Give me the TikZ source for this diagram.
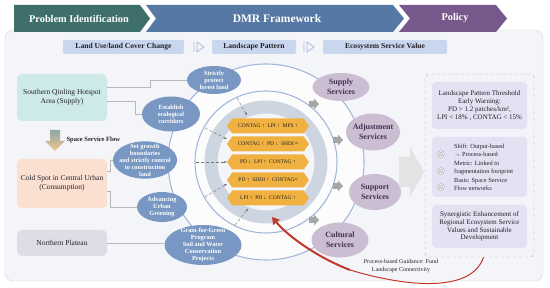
\documentclass[tikz,border=0pt]{standalone}
\usepackage{fontspec}
\setmainfont{Liberation Serif}
\usetikzlibrary{shapes, arrows.meta, positioning, calc}
\definecolor{teal1}{RGB}{63,111,106}
\definecolor{blue1}{RGB}{85,120,164}
\definecolor{violet1}{RGB}{120,89,140}
\definecolor{panel1}{RGB}{244,245,248}
\definecolor{tag1}{RGB}{200,214,238}
\definecolor{ring1}{RGB}{163,183,219}
\definecolor{ringgray}{RGB}{205,213,225}
\definecolor{measure1}{RGB}{120,151,195}
\definecolor{service1}{RGB}{203,189,210}
\definecolor{serviceink}{RGB}{68,48,82}
\definecolor{hex1}{RGB}{240,177,64}
\definecolor{policy1}{RGB}{229,225,243}
\definecolor{policy2}{RGB}{245,242,249}
\definecolor{hot1}{RGB}{206,234,232}
\definecolor{cold1}{RGB}{251,224,210}
\definecolor{plateau1}{RGB}{220,221,231}
\definecolor{flowend}{RGB}{247,196,140}
\definecolor{arrowred}{RGB}{192,57,43}
\definecolor{ink1}{RGB}{34,34,40}

\tikzset{
  headtxt/.style={text=white, font=\fontsize{10.3}{12}\selectfont\bfseries},
  tag/.style={fill=tag1, rounded corners=1.5pt, minimum height=14pt, inner sep=0pt,
    font=\fontsize{7.6}{9}\selectfont\bfseries, text=ink1},
  region/.style={rounded corners=5pt, minimum width=90pt, align=center, inner sep=0pt,
    font=\fontsize{7.5}{9}\selectfont, text=ink1},
  measure/.style={ellipse, fill=measure1, text=white, align=center, inner sep=-3pt,
    font=\fontsize{6.3}{7}\selectfont\bfseries},
  service/.style={ellipse, fill=service1, text=serviceink, align=center, inner sep=-3pt,
    font=\fontsize{8}{10}\selectfont\bfseries},
  metric/.style={signal, signal to=east and west, signal pointer angle=110, fill=hex1,
    minimum width=82pt, minimum height=15pt, inner sep=0pt,
    font=\fontsize{5.5}{6}\selectfont, text=ink1},
  link/.style={draw=black!28, line width=0.5pt},
  cue/.style={draw=black!55, densely dashed, line width=0.4pt, -{Stealth[length=3pt,width=2.4pt]}},
  polbox/.style={fill=policy1, rounded corners=4pt, minimum width=95pt, align=center, inner sep=0pt,
    font=\fontsize{7}{7.8}\selectfont, text=ink1},
  item/.style={anchor=west, align=left, inner sep=0pt, font=\fontsize{6.3}{8.5}\selectfont, text=ink1},
  policon/.style={circle, draw=black!40, line width=0.5pt, double=white, double distance=0.9pt,
    minimum size=5pt, inner sep=0pt}
}

\begin{document}
\begin{tikzpicture}[x=1pt, y=-1pt]
  \useasboundingbox (0,0) rectangle (550,288);
  \fill[white] (0,0) rectangle (550,288);
  \draw[fill=panel1, draw=black!15, rounded corners=8pt] (5,30) rectangle (543,281);

  \fill[teal1] (14,5) -- (140,5) -- (150,18.5) -- (140,32) -- (14,32) -- cycle;
  \fill[blue1] (146,5) -- (393,5) -- (404,18.5) -- (393,32) -- (146,32) -- (156,18.5) -- cycle;
  \fill[violet1] (399,5) -- (496,5) -- (507,18.5) -- (496,32) -- (399,32) -- (410,18.5) -- cycle;
  \node[headtxt] (hProb) at (79,18.5) {Problem Identification};
  \node[headtxt, font=\fontsize{11.5}{13}\selectfont\bfseries] (hDMR) at (277,18.5) {DMR Framework};
  \node[headtxt] (hPol) at (455,18.5) {Policy};

  \node[tag, minimum width=121pt] (tLand) at (123.5,47) {Land Use/land Cover Change};
  \node[tag, minimum width=84pt] (tPat) at (254,47) {Landscape Pattern};
  \node[tag, minimum width=124pt] (tEco) at (385,47) {Ecosystem Service Value};
  \foreach \x in {194,304}
    \draw[ring1, line width=0.7pt] (\x,42) -- (\x,52) (\x+3,42) -- (\x+10,47) -- (\x+3,52) -- cycle;

  \node[region, fill=hot1, minimum height=47pt] (hot) at (62,97.5) {Southern Qinling Hotspot\\Area (Supply)};
  \node[region, fill=cold1, minimum height=49pt] (cold) at (62,183.5) {Cold Spot in Central Urban\\(Consumption)};
  \node[region, fill=plateau1, minimum height=26pt] (plateau) at (62,243) {Northern Plateau};
  \shade[top color=teal1!60, bottom color=flowend] (50,130) -- (60,130) -- (60,141) -- (65,141) -- (55,151) -- (45,141) -- (50,141) -- cycle;
  \node[anchor=west, font=\fontsize{6.5}{8}\selectfont\bfseries, text=ink1] (flow) at (63,140) {Space Service Flow};

  \coordinate (hub) at (266,162);
  \draw[ring1, line width=1.1pt, fill=white!70!panel1] (hub) circle [radius=98pt];
  \draw[ring1, line width=1.1pt] (hub) circle [radius=71pt];
  \draw[ringgray, line width=13pt, fill=panel1] (hub) circle [radius=55pt];

  \foreach \y/\txt [count=\i] in {126/{CONTAG ↑\enspace LPI ↑\enspace MPS ↑},
      144/{CONTAG ↑\enspace PD ↓\enspace SHDI ≈},
      162/{PD ↓\enspace LPI ↑\enspace CONTAG ↑},
      180/{PD ↑\enspace SHDI ↑\enspace CONTAG≈},
      198/{LPI ↑\enspace PD ↓\enspace CONTAG ↑}}
    \node[metric] (hex\i) at (268,\y) {\txt};

  \foreach \p in {(314,104),(338,140),(338,186),(314,220)}
    \fill[black!35] \p ++(-5,-3) -- ++(5,0) -- ++(0,-2.5) -- ++(5,5.5) -- ++(-5,5.5) -- ++(0,-2.5) -- ++(-5,0) -- cycle;

  \node[measure, minimum width=54pt, minimum height=28pt] (forest) at (214,80) {Strictly\\protect\\forest land};
  \node[measure, minimum width=58pt, minimum height=35pt] (corridor) at (171,114) {Establish\\ecological\\corridors};
  \node[measure, minimum width=64pt, minimum height=37pt] (growth) at (145,160) {Set growth\\boundaries\\and strictly control\\to construction\\land};
  \node[measure, minimum width=50pt, minimum height=30pt] (greening) at (162,207) {Advancing\\Urban\\Greening};
  \node[measure, minimum width=77pt, minimum height=40pt] (grain) at (203,245) {Grain-for-Green\\Program\\Soil and Water\\Conservation\\Projects};

  \draw[link] ([yshift=10pt]hot.east) -- ++(43,0) |- (forest.west);
  \draw[link] ([yshift=-3.5pt]hot.east) -- ++(28,0) |- (corridor.west);
  \draw[link] ([yshift=12pt]cold.east) -- ++(3,0) |- (growth.west);
  \draw[link] ([yshift=-8pt]cold.east) -- ++(3,0) |- (greening.west);
  \draw[link] (plateau.east) -- (plateau.east -| grain.west);

  \coordinate (cue1) at (237,98);
  \coordinate (cue2) at (205,128);
  \coordinate (cue3) at (196,162);
  \coordinate (cue4) at (205,197);
  \coordinate (cue5) at (235,225);
  \draw[cue] (cue1) -- ([xshift=-21pt,yshift=3pt]hex1.north);
  \draw[cue] (cue2) -- ([yshift=5pt]hex2.west);
  \draw[cue] (cue3) -- (hex3.west);
  \draw[cue] (cue4) -- ([yshift=-4pt]hex4.west);
  \draw[cue] (cue5) -- ([xshift=-20pt,yshift=-3pt]hex5.south);

  \node[service, minimum width=57pt, minimum height=28pt] (supply) at (341,87) {Supply\\Services};
  \node[service, minimum width=54pt, minimum height=37pt] (adjust) at (373,132) {Adjustment\\Services};
  \node[service, minimum width=52pt, minimum height=36pt] (support) at (375,192) {Support\\Services};
  \node[service, minimum width=57pt, minimum height=35pt] (cultural) at (340,240) {Cultural\\Services};

  \fill[black!11] (399,157) -- (410,157) -- (410,147) -- (424,172) -- (410,197) -- (410,187) -- (399,187) -- cycle;

  \node[draw=black!30, dashed, fill=policy2, rounded corners=4pt, minimum width=109pt, minimum height=183pt] (policy) at (479.5,165.5) {};
  \node[polbox, minimum height=47pt] (threshold) at (479.5,105.5) {Landscape Pattern Threshold\\Early Warning:\\PD > 1.2 patches/km²,\\LPI < 18\% , CONTAG < 15\%};
  \node[polbox, minimum height=60pt] (mechanism) at (479.5,167) {};
  \node[polbox, minimum height=43pt] (synergy) at (479.5,226.5) {Synergistic Enhancement of\\Regional Ecosystem Service\\Values and Sustainable\\Development};
  \node[item] (shift) at (454,150.5) {Shift: Output-based\\→ Process-based};
  \node[item] (metric) at (454,168) {Metric: Linked to\\fragmentation footprint};
  \node[item] (basis) at (454,184.5) {Basis: Space Service\\Flow networks};
  \foreach \y [count=\i] in {154,171,187}
    \node[policon] (icon\i) at (441,\y) {};

  \coordinate (guide) at (272,217);
  \coordinate (bend) at (350,270);
  \draw[arrowred, line width=1pt] ([xshift=4pt]policy.south) .. controls (472,292) and (410,288) .. (bend);
  \draw[arrowred, line width=2pt, -{Triangle[length=7pt,width=8pt]}] (bend) .. controls (314,256) and (286,234) .. (guide);
  \node[font=\fontsize{6}{8}\selectfont, align=center, text=ink1] (guidance) at (401,266) {Process-based Guidance: Fund\\Landscape Connectivity};
\end{tikzpicture}
\end{document}
